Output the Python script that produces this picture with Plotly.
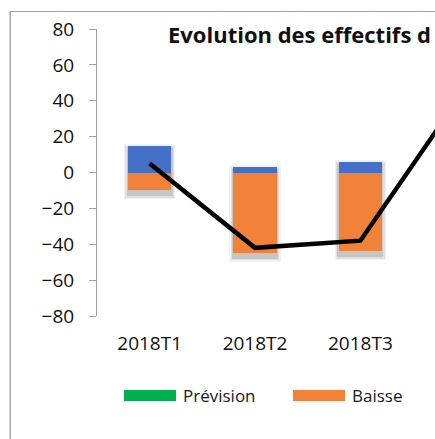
import plotly.graph_objects as go

categories = ["2018T1", "2018T2", "2018T3", "2018T4"]
hausse = [15, 3, 6, None]
baisse = [-10, -45, -44, None]
solde = [5, -42, -38, 47]
y_ticks = [-80, -60, -40, -20, 0, 20, 40, 60, 80]

W, H = 435, 439
L, R, T, B = 97, 0, 29, 123
PW, PH = W - L - R, H - T - B

def px(xp):
    return (xp - L) / PW

def py(yp):
    return (T + PH - yp) / PH

BAR_W = 0.41
FONT = "Open Sans"
fig = go.Figure()

# soft shadows under the bars
for grow, down, up, alpha in [(0.08, 5.0, 1.0, 0.05), (0.05, 4.0, 0.0, 0.08), (0.025, 3.0, -1.0, 0.11)]:
    bases = [b - down if b is not None else None for b in baisse]
    spans = [(h + up) - (b - down) if h is not None else None for h, b in zip(hausse, baisse)]
    fig.add_trace(go.Bar(x=categories, y=spans, base=bases, width=BAR_W + grow,
                         marker=dict(color=f"rgba(0,0,0,{alpha})", line=dict(width=0)),
                         showlegend=False, hoverinfo="skip"))

fig.add_trace(go.Bar(x=categories, y=hausse, width=BAR_W, name="Hausse",
                     marker=dict(color="#4471C7", line=dict(width=0)), showlegend=False))
fig.add_trace(go.Bar(x=categories, y=baisse, width=BAR_W, name="Baisse",
                     marker=dict(color="#F0823A", line=dict(width=0)), showlegend=False))
fig.add_trace(go.Scatter(x=categories, y=solde, mode="lines", name="Solde",
                         line=dict(color="#000000", width=4.5), showlegend=False))

x_hi = 2.5 + (W - 413) / 105.5

shapes = [
    # chart border (left edge; the right and bottom edges are outside the crop)
    dict(type="line", xref="paper", yref="paper", x0=px(10), x1=px(10), y0=py(H), y1=py(11),
         line=dict(color="#A6A6A6", width=1), layer="above"),
    # legend swatches
    dict(type="rect", xref="paper", yref="paper", x0=px(124), x1=px(176), y0=py(401), y1=py(390),
         line=dict(width=0), fillcolor="#00B050"),
    dict(type="rect", xref="paper", yref="paper", x0=px(293), x1=px(345), y0=py(401), y1=py(390),
         line=dict(width=0), fillcolor="#F0823A"),
]
annotations = [
    # chart border box (top edge)
    dict(text=" ", xref="paper", yref="paper", x=px(10), y=py(11), xanchor="left", yanchor="top",
         width=520, height=520, borderpad=0, bordercolor="#A6A6A6", borderwidth=1,
         showarrow=False, font=dict(size=1)),
    dict(text="Prévision", xref="paper", yref="paper", x=px(181), y=py(395.5), xanchor="left",
         yanchor="middle", showarrow=False, font=dict(family=FONT, size=17, color="#1a1a1a")),
    dict(text="Baisse", xref="paper", yref="paper", x=px(350), y=py(395.5), xanchor="left",
         yanchor="middle", showarrow=False, font=dict(family=FONT, size=17, color="#1a1a1a")),
]

fig.update_layout(
    width=W, height=H, autosize=False,
    margin=dict(l=L, r=R, t=T, b=B, pad=0),
    paper_bgcolor="white", plot_bgcolor="white",
    barmode="overlay", bargap=0,
    title=dict(text="<b>Evolution des effectifs d</b>", xref="container", yref="container",
               x=168 / W, xanchor="left", y=1 - 35 / H, yanchor="middle",
               font=dict(family=FONT, size=22, color="#111111")),
    xaxis=dict(type="category", categoryorder="array", categoryarray=categories,
               range=[-0.5, x_hi], showline=False, showgrid=False, zeroline=False,
               ticks="", tickfont=dict(family=FONT, size=19, color="#111111"),
               ticklabelstandoff=14),
    xaxis2=dict(overlaying="x", anchor="free", position=0.5, range=[-0.5, x_hi],
                tickmode="array", tickvals=[0.5, 1.5, 2.5], ticks="outside", ticklen=6,
                tickcolor="#A0A0A0", showticklabels=False, showline=True, linecolor="#A0A0A0",
                linewidth=1, showgrid=False, zeroline=False),
    yaxis=dict(range=[-80, 80], tickmode="array", tickvals=y_ticks, showgrid=False,
               zeroline=False, showline=True, linecolor="#A0A0A0", linewidth=1,
               ticks="outside", ticklen=7, tickcolor="#A0A0A0",
               tickfont=dict(family=FONT, size=19, color="#111111"), ticklabelstandoff=11),
    shapes=shapes, annotations=annotations,
    font=dict(family=FONT),
)

fig.write_html("out.html", config={"displayModeBar": False},
               post_script="document.body.style.margin='0';")
